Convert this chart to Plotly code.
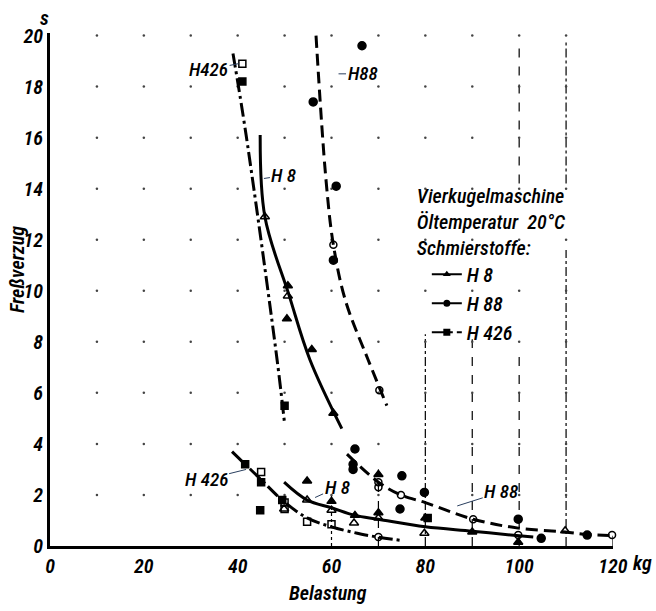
import numpy as np
import plotly.graph_objects as go

FONT = "Liberation Sans Narrow, Roboto Condensed, DejaVu Sans Condensed, Liberation Sans, sans-serif"

# ---- axes ----
x_ticks = [0, 20, 40, 60, 80, 100, 120]
x_ticklabels = ["0", "20", "40", "60", "80", "100", "120"]
y_ticks = list(range(0, 21, 2))
grid_x = list(range(10, 120, 10))
grid_y = list(range(2, 21, 2))

# ---- fitted curves ----
h8_upper_x = [44.8, 45.8, 51.0, 55.4, 62.2]
h8_upper_y = [16.1, 12.9, 9.8, 7.3, 4.6]
h8_lower_x = [49.9, 54.8, 60, 65, 70, 80, 90, 100, 103]
h8_lower_y = [2.5, 1.8, 1.5, 1.2, 1.05, 0.75, 0.58, 0.4, 0.35]

h88_upper_x = [56.7, 58.8, 60.4, 63, 67.8, 71.8]
h88_upper_y = [20, 14.4, 11.8, 9.6, 7.3, 5.5]
h88_lower_x = [63.3, 70, 74.8, 80, 90.2, 99.8, 109.8, 114.5, 121]
h88_lower_y = [3.6, 2.5, 2.0, 1.7, 1.05, 0.7, 0.55, 0.45, 0.4]

h426_upper_x = [39, 41.8, 48.4, 50]
h426_upper_y = [19.3, 16.1, 7.3, 4.8]
h426_lower_x = [38.8, 41.6, 45, 49.5, 54.8, 60, 65.5, 69.8, 74.8]
h426_lower_y = [3.7, 3.2, 2.6, 1.8, 1.1, 0.75, 0.5, 0.35, 0.22]

# ---- measured points ----
h8_fill_x = [50.7, 50.5, 55.8, 60.4, 54.8, 60, 65, 70, 70, 80, 90, 99.8]
h8_fill_y = [10.2, 8.9, 7.7, 5.2, 2.55, 1.75, 1.2, 2.8, 1.3, 1.1, 0.55, 0.15]
h8_open_x = [45.8, 50.7, 54.8, 60, 49.9, 64.8, 70, 79.8, 109.8]
h8_open_y = [12.9, 9.8, 1.8, 1.4, 1.45, 0.9, 1.1, 0.5, 0.6]

h88_fill_x = [56.1, 66.5, 61, 60.4, 65, 64.6, 64.6, 75, 74.6, 79.8, 99.8, 104.7, 114.5]
h88_fill_y = [17.4, 19.6, 14.1, 11.2, 3.8, 3.2, 3.0, 2.75, 1.45, 2.1, 1.05, 0.3, 0.43]
h88_open_x = [60.4, 70.2, 70, 70, 74.8, 90.2, 99.8, 119.8, 70]
h88_open_y = [11.8, 6.1, 2.5, 2.3, 2.0, 1.05, 0.43, 0.43, 0.35]

h426_fill_x = [41, 50, 41.6, 45, 44.8, 49.5, 80.5]
h426_fill_y = [18.2, 5.5, 3.2, 2.5, 1.4, 1.8, 1.1]
h426_open_x = [41, 45, 50, 50, 54.8, 60]
h426_open_y = [18.9, 2.9, 1.7, 1.45, 0.95, 0.85]

# ---- vertical guide line segments ----
guide_x = [60, 70, 80, 90, 100, 100, 110, 110, 120]
guide_y0 = [0, 0, 0, 0, 14.2, 0, 14.2, 0, 0]
guide_y1 = [2.0, 3.0, 8.3, 8.1, 19.8, 7.7, 19.8, 11.6, 0.4]
guide_dash = ["dot", "dash", "dashdot", "dash", "dash", "dash", "dashdot", "dashdot", "solid"]

DASH_H8 = "solid"
DASH_H88 = "12px,6px"
DASH_H426 = "14px,4px,3px,4px"

fig = go.Figure()

# grid dots
gx, gy = np.meshgrid(grid_x, grid_y)
fig.add_trace(go.Scatter(x=gx.ravel(), y=gy.ravel(), mode="markers",
                         marker=dict(size=2.5, color="#444"), showlegend=False,
                         hoverinfo="skip"))

for gxv, y0, y1, dsh in zip(guide_x, guide_y0, guide_y1, guide_dash):
    fig.add_shape(type="line", x0=gxv, x1=gxv, y0=y0, y1=y1,
                  line=dict(color="black", width=1.2, dash=dsh), layer="below")

def curve(x, y, dash):
    fig.add_trace(go.Scatter(x=x, y=y, mode="lines", showlegend=False,
                             line=dict(color="black", width=3, dash=dash, shape="spline", smoothing=1.0),
                             cliponaxis=False))

curve(h8_upper_x, h8_upper_y, DASH_H8)
curve(h8_lower_x, h8_lower_y, DASH_H8)
curve(h88_upper_x, h88_upper_y, DASH_H88)
curve(h88_lower_x, h88_lower_y, DASH_H88)
curve(h426_upper_x, h426_upper_y, DASH_H426)
curve(h426_lower_x, h426_lower_y, DASH_H426)

def pts(x, y, symbol, size):
    fig.add_trace(go.Scatter(x=x, y=y, mode="markers", showlegend=False, cliponaxis=False,
                             marker=dict(symbol=symbol, size=size, color="black",
                                         line=dict(color="black", width=1.5))))

pts(h8_fill_x, h8_fill_y, "triangle-up", 8)
pts(h8_open_x, h8_open_y, "triangle-up-open", 8)
pts(h88_fill_x, h88_fill_y, "circle", 8)
pts(h88_open_x, h88_open_y, "circle-open", 7)
pts(h426_fill_x, h426_fill_y, "square", 7)
pts(h426_open_x, h426_open_y, "square-open", 7)

# legend entries
for name, sym, dash in [("H 8", "triangle-up", DASH_H8), ("H 88", "circle", DASH_H88),
                        ("H 426", "square", DASH_H426)]:
    fig.add_trace(go.Scatter(x=[None], y=[None], mode="lines+markers", name=name,
                             line=dict(color="black", width=2, dash=dash),
                             marker=dict(symbol=sym, size=7, color="black")))

tf = dict(family=FONT, size=20, color="black", style="italic", weight=600)
lf = dict(family=FONT, size=20, color="black", style="italic", weight=500)

fig.update_layout(
    width=656, height=611,
    margin=dict(l=50, r=43, t=33, b=65),
    paper_bgcolor="white", plot_bgcolor="white",
    font=tf,
    xaxis=dict(range=[0, 120], tickvals=x_ticks, ticktext=x_ticklabels, showgrid=False,
               zeroline=False, showline=True, linecolor="black", linewidth=3,
               ticks="", ticklen=0, tickfont=tf),
    yaxis=dict(range=[0, 20.1], tickvals=y_ticks, showgrid=False, zeroline=False,
               showline=True, linecolor="black", linewidth=3, ticks="", ticklen=0,
               ticklabelstandoff=0, tickfont=tf),
    legend=dict(x=0.648, y=0.72, xanchor="left", yanchor="top",
                bgcolor="rgba(0,0,0,0)", font=lf, indentation=12,
                title=dict(text="Vierkugelmaschine<br>Öltemperatur  20°C<br>Schmierstoffe:", font=lf)),
    showlegend=True,
)

def label(text, x, y, ax, ay):
    fig.add_annotation(x=x, y=y, text=text, showarrow=True, arrowhead=0, arrowwidth=1,
                       ax=ax, ay=ay, font=dict(family=FONT, size=19, color="black", style="italic", weight=500))

label("H426", 40.2, 18.9, -30, 6)
label("H 8", 45.6, 14.4, 20, -3)
label("H88", 61.5, 18.5, 24, 0)
label("H 426", 41.8, 3.0, -40, 10)
label("H 8", 56.5, 1.9, 22, -10)
label("H 88", 86.8, 1.57, 44, -14)

def note(text, x, y, angle=0):
    fig.add_annotation(xref="paper", yref="paper", x=x, y=y, text=text, showarrow=False,
                       xanchor="center", yanchor="middle", textangle=angle, font=tf)

note("s", -0.009, 1.03)
note("Freßverzug", -0.0586, 0.538, -90)
note("Belastung", 0.494, -0.0916)
note("kg", 1.052, -0.033)

fig.write_html("out.html")
